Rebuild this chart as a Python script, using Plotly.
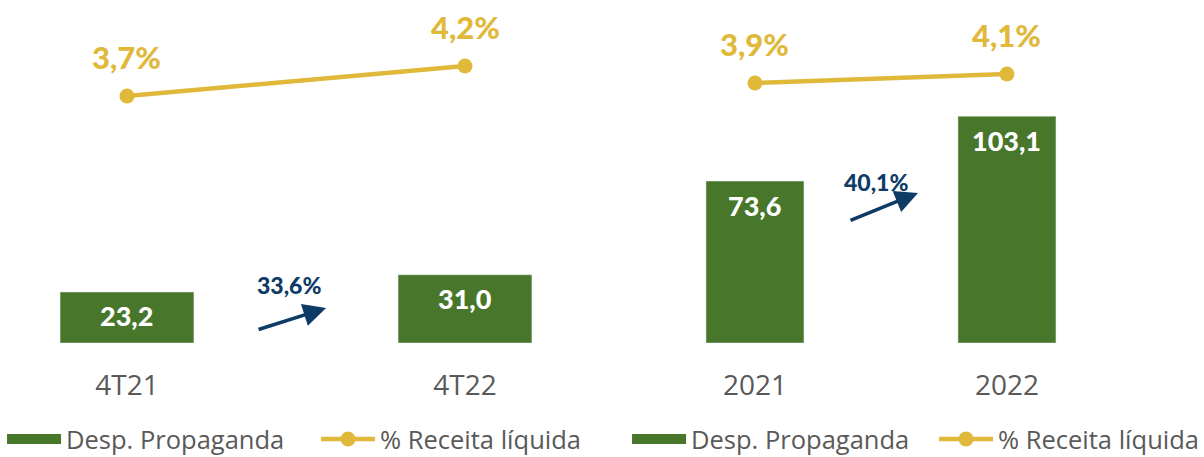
import plotly.graph_objects as go

# ---- data ----
periods_q = ["4T21", "4T22"]
periods_y = ["2021", "2022"]
desp_q = [23.2, 31.0]
desp_y = [73.6, 103.1]
pct_q = [3.7, 4.2]
pct_y = [3.9, 4.1]
growth_q = "33,6%"
growth_y = "40,1%"

GREEN = "#48762b"
YELLOW = "#e0b83a"
BLUE = "#0e3b66"
GRAY = "#595959"
BOLD = "Lato Black, Lato, Arial Black, sans-serif"
REG = "Open Sans, Lato, sans-serif"

def fmt(v, pct=False):
    s = f"{v:.1f}".replace(".", ",")
    return s + "%" if pct else s

fig = go.Figure()

def add_group(cats, bars, pct, xa, ya, yl, leg, bw):
    fig.add_trace(go.Bar(x=cats, y=bars, marker_color=GREEN, width=bw,
                         name="Desp. Propaganda", xaxis=xa, yaxis=ya, showlegend=False))
    # legend proxy for the bar series (wide block symbol)
    fig.add_trace(go.Scatter(x=[None], y=[None], mode="lines", line=dict(color=GREEN, width=15),
                             name="Desp. Propaganda", xaxis=xa, yaxis=ya, legend=leg))
    fig.add_trace(go.Scatter(x=cats, y=pct, mode="lines+markers",
                             line=dict(color=YELLOW, width=4.5), marker=dict(size=15, color=YELLOW),
                             name="% Receita líquida", xaxis=xa, yaxis=yl, legend=leg))

add_group(periods_q, desp_q, pct_q, "x", "y", "y3", "legend", 0.396)
add_group(periods_y, desp_y, pct_y, "x2", "y2", "y4", "legend2", 0.389)

ann = []
for ys, xr, yr in [(desp_q, "x", "y"), (desp_y, "x2", "y2")]:
    for i, v in enumerate(ys):
        ann.append(dict(x=i, y=v, xref=xr, yref=yr, text=fmt(v), showarrow=False,
                        yshift=-24, font=dict(family=BOLD, size=27, color="white")))
for ys, xr, yr in [(pct_q, "x", "y3"), (pct_y, "x2", "y4")]:
    for i, v in enumerate(ys):
        ann.append(dict(x=i, y=v, xref=xr, yref=yr, text=fmt(v, True), showarrow=False,
                        yshift=39, font=dict(family=BOLD, size=31, color=YELLOW)))

# growth arrows
ann.append(dict(x=0.589, y=15.9, xref="x", yref="y", ax=-69, ay=22, showarrow=True,
                arrowhead=2, arrowsize=1.3, arrowwidth=3.5, arrowcolor=BLUE, text=""))
ann.append(dict(x=0.479, y=26.4, xref="x", yref="y", text=growth_q, showarrow=False,
                font=dict(family=BOLD, size=23, color=BLUE)))
ann.append(dict(x=0.647, y=68.2, xref="x2", yref="y2", ax=-69, ay=28, showarrow=True,
                arrowhead=2, arrowsize=1.3, arrowwidth=3.5, arrowcolor=BLUE, text=""))
ann.append(dict(x=0.48, y=73.2, xref="x2", yref="y2", text=growth_y, showarrow=False,
                font=dict(family=BOLD, size=23, color=BLUE)))

xcommon = dict(type="category", showgrid=False, zeroline=False, showline=False, ticks="",
               tickfont=dict(family=REG, size=28, color=GRAY), ticklabelstandoff=23)
ycommon = dict(visible=False, showgrid=False, zeroline=False)

legcommon = dict(orientation="h", y=-0.281, xanchor="left", yanchor="middle",
                 font=dict(family=REG, size=25.5, color=GRAY), itemwidth=54, tracegroupgap=0,
                 bgcolor="rgba(0,0,0,0)", entrywidthmode="pixels")

split = 600 / 1204
fig.update_layout(
    width=1204, height=457,
    margin=dict(l=0, r=0, t=0, b=114, autoexpand=False),
    paper_bgcolor="white", plot_bgcolor="white",
    xaxis=dict(domain=[0, split], range=[-0.3757, 1.3994], anchor="y", **xcommon),
    xaxis2=dict(domain=[split, 1], range=[-0.615, 1.782], anchor="y2", **xcommon),
    yaxis=dict(range=[0, 155.9], anchor="x", **ycommon),
    yaxis2=dict(range=[0, 155.9], anchor="x2", **ycommon),
    yaxis3=dict(range=[-0.417, 5.3], overlaying="y", anchor="x", **ycommon),
    yaxis4=dict(range=[-1.878, 5.744], overlaying="y2", anchor="x2", **ycommon),
    legend=dict(x=0.0017, entrywidth=245, **legcommon),
    legend2=dict(x=0.5208, entrywidth=238, **legcommon),
    annotations=ann,
    showlegend=True,
)

fig.write_html("out.html", config={"displayModeBar": False},
               post_script="document.body.style.margin='0';document.body.style.overflow='hidden';")
